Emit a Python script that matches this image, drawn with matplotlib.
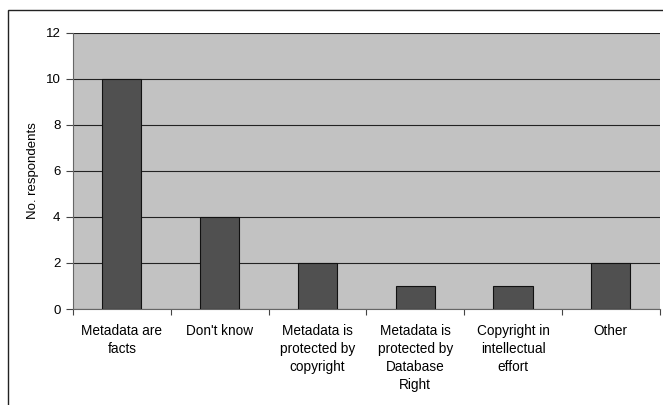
import matplotlib.pyplot as plt
from matplotlib.patches import Rectangle

plt.rcParams['font.family'] = ['Liberation Sans', 'DejaVu Sans']

# Data
categories = ["Metadata are\nfacts", "Don't know", "Metadata is\nprotected by\ncopyright",
              "Metadata is\nprotected by\nDatabase\nRight", "Copyright in\nintellectual\neffort", "Other"]
respondents = [10, 4, 2, 1, 1, 2]
y_ticks = [0, 2, 4, 6, 8, 10, 12]

fig = plt.figure(figsize=(6.63, 4.05), dpi=100)
ax = fig.add_axes([0.110, 0.237, 0.885, 0.682])

# outer chart frame (only top and left edges visible in the scan)
fig.add_artist(Rectangle((0.012, -0.05), 1.2, 1.025, transform=fig.transFigure,
                         fill=False, edgecolor='#222222', linewidth=1.0, zorder=0))

ax.set_facecolor('#c2c2c2')
x = range(len(categories))
ax.bar(x, respondents, width=0.4, color='#505050', edgecolor='#111111', linewidth=0.8, zorder=3)

ax.set_ylim(0, 12)
ax.set_xlim(-0.5, len(categories) - 0.5)
ax.set_yticks(y_ticks)
ax.yaxis.grid(True, color='#222222', linewidth=0.8, zorder=1)
ax.set_axisbelow(True)

# category boundary ticks (major) and centered labels (minor)
ax.set_xticks([i + 0.5 for i in range(-1, len(categories))])
ax.set_xticklabels([])
ax.set_xticks(list(x), minor=True)
ax.set_xticklabels(categories, minor=True, fontsize=9.8, linespacing=1.35)
ax.tick_params(axis='x', which='minor', length=0, pad=11)
ax.tick_params(axis='x', which='major', length=4, color='#444444')
ax.tick_params(axis='y', labelsize=9.5, length=5, color='#444444', pad=4)
ax.set_ylabel("No. respondents", fontsize=9.5, labelpad=5)

for side in ['top', 'right']:
    ax.spines[side].set_visible(False)
ax.spines['left'].set_color('#666666')
ax.spines['bottom'].set_color('#666666')

fig.savefig("out.png", dpi=100)
